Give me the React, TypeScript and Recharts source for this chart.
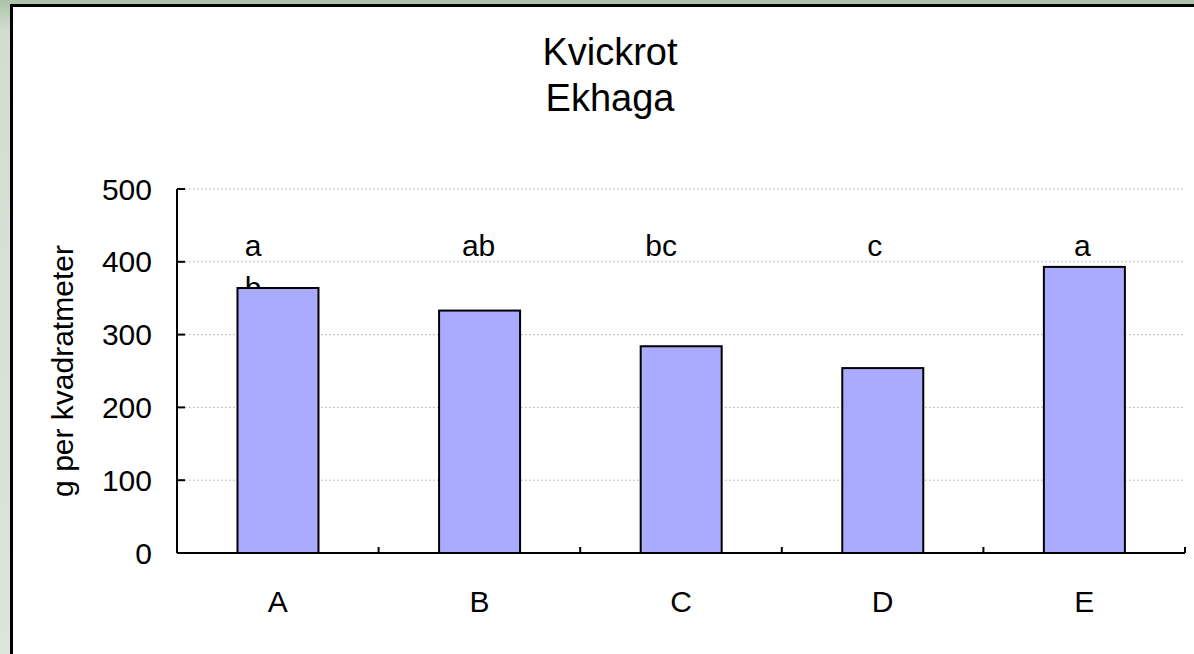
import React from 'react';
import { BarChart, Bar, XAxis, YAxis, CartesianGrid } from 'recharts';

// Kvickrot, Ekhaga - g per kvadratmeter
const kategorier = ['A', 'B', 'C', 'D', 'E'];
const gramPerKvm = [364, 333, 284, 254, 393];
// bokstäver ovanför staplarna (signifikansgrupper), rad för rad
const bokstaver: string[][] = [['a', 'b'], ['ab'], ['bc'], ['c'], ['a']];
const yTicks = [0, 100, 200, 300, 400, 500];

const data = kategorier.map((k, i) => ({ kategori: k, g: gramPerKvm[i], bokstaver: bokstaver[i] }));

const FONT = '"Liberation Sans", Arial, Helvetica, sans-serif';
const BOKSTAV_NIVA = 408; // y-värde där bokstäverna står
const RADHOJD = 42;
const bokstavDx = [-25, -1, -20, -8, -2];

const StapelMedBokstav = (props: any) => {
  const { x, y, width, height, payload, index } = props;
  const bas = y + height;
  const k = payload.g > 0 ? height / payload.g : 0;
  const ty = bas - BOKSTAV_NIVA * k;
  const cx = x + width / 2 + (bokstavDx[index] ?? 0);
  return (
    <g>
      {payload.bokstaver.map((b: string, i: number) => (
        <text key={i} x={cx} y={ty + i * RADHOJD} textAnchor="middle" fontSize={30} fontFamily={FONT} fill="#000">
          {b}
        </text>
      ))}
      <rect x={x} y={y} width={width} height={height} fill="#aaaaff" stroke="#000" strokeWidth={2} />
    </g>
  );
};

const YTick = (props: any) => {
  const { x, y, payload } = props;
  return (
    <g>
      {payload.value !== 0 && <line x1={x} x2={x + 8} y1={y} y2={y} stroke="#000" strokeWidth={2} />}
      <text x={x - 25} y={y} dy="0.355em" textAnchor="end" fontSize={30} fontFamily={FONT} fill="#000">
        {payload.value}
      </text>
    </g>
  );
};

const XTick = (props: any) => {
  const { x, y, payload } = props;
  const halv = payload.offset || 100.8;
  return (
    <g>
      <line x1={x + halv} x2={x + halv} y1={y} y2={y - 6} stroke="#000" strokeWidth={2} />
      <text x={x} y={y + 59} textAnchor="middle" fontSize={30} fontFamily={FONT} fill="#000">
        {payload.value}
      </text>
    </g>
  );
};

export default function App() {
  return (
    <div
      style={{
        position: 'absolute', left: 0, top: 0, width: 1194, height: 654, overflow: 'hidden',
        background: 'linear-gradient(to bottom, #abc2a8 0px, #d2ddd0 30px, #dde5db 100%)',
        fontFamily: FONT,
      }}
    >
      <div
        style={{
          position: 'absolute', left: 10, top: 4, width: 1250, height: 720,
          background: '#fff', border: '3px solid #000', boxSizing: 'border-box',
        }}
      />
      <div style={{ position: 'absolute', left: 0, top: 29, width: 1220, textAlign: 'center', fontSize: 38, lineHeight: '46px', color: '#000' }}>
        Kvickrot
        <br />
        Ekhaga
      </div>
      <div style={{ position: 'absolute', left: 0, top: 0 }}>
        <BarChart
          width={1194}
          height={654}
          data={data}
          margin={{ top: 189, right: 9, bottom: 0, left: 0 }}
          barCategoryGap="30%"
        >
          <CartesianGrid vertical={false} stroke="#aaaaaa" strokeDasharray="1.5 2.5" />
          <XAxis
            dataKey="kategori"
            height={101}
            axisLine={{ stroke: '#000', strokeWidth: 2 }}
            tickLine={false}
            tickSize={0}
            tickMargin={0}
            tick={<XTick />}
            interval={0}
          />
          <YAxis
            width={177}
            domain={[0, 500]}
            ticks={yTicks}
            axisLine={{ stroke: '#000', strokeWidth: 2 }}
            tickLine={false}
            tickSize={0}
            tickMargin={0}
            tick={<YTick />}
            label={{
              value: 'g per kvadratmeter', angle: -90, position: 'center', dx: -26,
              style: { fontSize: 30, fontFamily: FONT, fill: '#000' },
            }}
          />
          <Bar dataKey="g" shape={<StapelMedBokstav />} isAnimationActive={false} />
        </BarChart>
      </div>
    </div>
  );
}
